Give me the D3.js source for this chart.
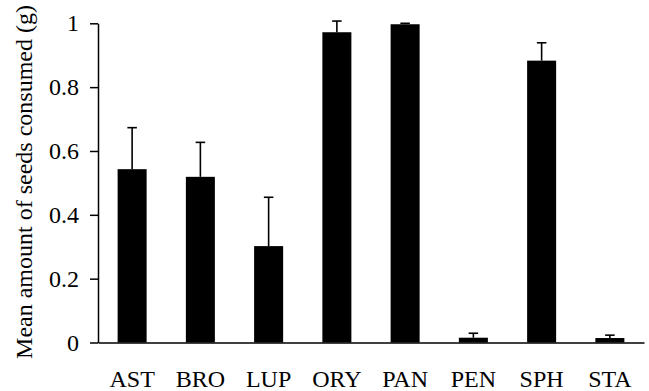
<!DOCTYPE html>
<html>
<head>
<meta charset="utf-8">
<script src="https://cdn.jsdelivr.net/npm/d3@7"></script>
<style>
  body { margin: 0; background: #fff; }
  svg { display: block; font-family: "Liberation Serif", "Times New Roman", serif; }
  .axis path, .axis line { stroke: #000; stroke-width: 1.5px; }
  .axis text { font-size: 24px; fill: #000; font-family: "Liberation Serif", serif; }
  .bar { fill: #000; }
  .err { stroke: #000; stroke-width: 1.6px; fill: none; }
</style>
</head>
<body>
<div id="chart"></div>
<script>
// seed species and mean amount eaten (g), with upper error (SE)
var species = ["AST", "BRO", "LUP", "ORY", "PAN", "PEN", "SPH", "STA"];
var means = [0.543, 0.519, 0.302, 0.972, 0.997, 0.015, 0.883, 0.014];
var errors = [0.130, 0.108, 0.153, 0.035, 0.003, 0.014, 0.056, 0.009];
var yTicks = [0, 0.2, 0.4, 0.6, 0.8, 1];
var yTickLabels = ["0", "0.2", "0.4", "0.6", "0.8", "1"];

var W = 649, H = 391;
var margin = {top: 23.3, right: 5, bottom: 48.5, left: 98};

var svg = d3.select("#chart").append("svg")
    .attr("width", W)
    .attr("height", H);

var x = d3.scaleBand()
    .domain(species)
    .range([margin.left, 644])
    .paddingInner(0.575)
    .paddingOuter(0.2875);

var y = d3.scaleLinear()
    .domain([0, 1])
    .range([H - margin.bottom, margin.top]);

var data = species.map(function(s, i) {
  return {name: s, mean: means[i], err: errors[i]};
});

// bars
svg.selectAll("rect.bar")
    .data(data)
  .enter().append("rect")
    .attr("class", "bar")
    .attr("x", function(d) { return x(d.name); })
    .attr("width", x.bandwidth())
    .attr("y", function(d) { return y(d.mean); })
    .attr("height", function(d) { return y(0) - y(d.mean); });

// error bars (upper half only)
var capW = 9.5;
var eb = svg.selectAll("g.eb")
    .data(data)
  .enter().append("g")
    .attr("class", "eb");

eb.append("line")
    .attr("class", "err")
    .attr("x1", function(d) { return x(d.name) + x.bandwidth() / 2; })
    .attr("x2", function(d) { return x(d.name) + x.bandwidth() / 2; })
    .attr("y1", function(d) { return y(d.mean); })
    .attr("y2", function(d) { return y(d.mean + d.err); });

eb.append("line")
    .attr("class", "err")
    .attr("x1", function(d) { return x(d.name) + x.bandwidth() / 2 - capW / 2; })
    .attr("x2", function(d) { return x(d.name) + x.bandwidth() / 2 + capW / 2; })
    .attr("y1", function(d) { return y(d.mean + d.err); })
    .attr("y2", function(d) { return y(d.mean + d.err); });

// y axis
var yAxis = d3.axisLeft(y)
    .tickValues(yTicks)
    .tickFormat(function(d, i) { return yTickLabels[i]; })
    .tickSizeInner(8)
    .tickSizeOuter(0)
    .tickPadding(11);

svg.append("g")
    .attr("class", "axis y")
    .attr("transform", "translate(" + margin.left + ",0)")
    .call(yAxis);

// x axis
var xAxis = d3.axisBottom(x)
    .tickSize(0)
    .tickSizeOuter(0);

var gx = svg.append("g")
    .attr("class", "axis x")
    .attr("transform", "translate(0," + y(0) + ")")
    .call(xAxis);

gx.selectAll("text")
    .attr("y", 44)
    .attr("dy", 0);

// axis title
svg.append("text")
    .attr("transform", "translate(32,182) rotate(-90)")
    .attr("text-anchor", "middle")
    .style("font-size", "24px")
    .text("Mean amount of seeds consumed (g)");
</script>
</body>
</html>
